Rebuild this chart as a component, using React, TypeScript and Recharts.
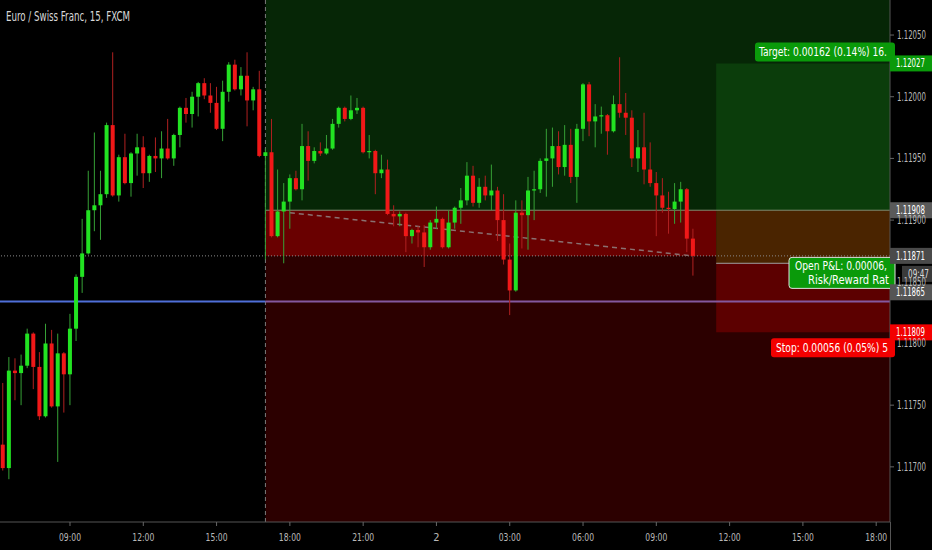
import { ComposedChart, Bar, XAxis, YAxis, ReferenceArea, ReferenceLine } from 'recharts';

// EUR/CHF 15m candles, 06:15 (day 1) .. 10:30 (day 2)
const opens = [
  1.11718, 1.11699, 1.11778, 1.11776, 1.11782, 1.11808, 1.11781, 1.11741, 1.11800, 1.11749,
  1.11792, 1.11775, 1.11812, 1.11854, 1.11873, 1.11908, 1.11912, 1.11921, 1.11977, 1.11920,
  1.11951, 1.11930, 1.11954, 1.11959, 1.11938, 1.11952, 1.11950, 1.11958, 1.11950, 1.11969,
  1.11991, 1.11986, 1.12000, 1.12011, 1.12001, 1.11995, 1.11974, 1.12004, 1.12026, 1.12006,
  1.12017, 1.11997, 1.12006, 1.11952, 1.11955, 1.11887, 1.11907, 1.11915, 1.11934, 1.11925,
  1.11960, 1.11948, 1.11956, 1.11954, 1.11958, 1.11978, 1.11991, 1.11982, 1.11989, 1.11991,
  1.11955, 1.11956, 1.11938, 1.11941, 1.11905, 1.11903, 1.11905, 1.11887, 1.11892, 1.11890,
  1.11878, 1.11898, 1.11901, 1.11878, 1.11898, 1.11910, 1.11916, 1.11936, 1.11914, 1.11927,
  1.11920, 1.11924, 1.11900, 1.11868, 1.11843, 1.11906, 1.11904, 1.11924, 1.11925, 1.11948,
  1.11950, 1.11960, 1.11943, 1.11961, 1.11935, 1.11974, 1.12010, 1.11980, 1.11984, 1.11985,
  1.11972, 1.11994, 1.11987, 1.11983, 1.11950, 1.11959, 1.11941, 1.11930, 1.11920, 1.11910,
  1.11909, 1.11915, 1.11925, 1.11885,
];
const highs = [
  1.11768, 1.11789, 1.11788, 1.11791, 1.11812, 1.11809, 1.11793, 1.11816, 1.11811, 1.11808,
  1.11793, 1.11824, 1.11856, 1.11901, 1.11940, 1.11971, 1.11940, 1.11979, 1.12036, 1.11953,
  1.11970, 1.11955, 1.11970, 1.11968, 1.11953, 1.11967, 1.11972, 1.11982, 1.11970, 1.11992,
  1.11999, 1.12004, 1.12012, 1.12015, 1.12011, 1.12008, 1.12013, 1.12028, 1.12030, 1.12024,
  1.12036, 1.12008, 1.12021, 1.11958, 1.11982, 1.11941, 1.11930, 1.11937, 1.11940, 1.11978,
  1.11972, 1.11959, 1.11963, 1.11969, 1.11982, 1.11992, 1.11992, 1.12001, 1.11999, 1.11992,
  1.11969, 1.11957, 1.11953, 1.11949, 1.11912, 1.11907, 1.11906, 1.11893, 1.11895, 1.11896,
  1.11900, 1.11911, 1.11902, 1.11908, 1.11911, 1.11926, 1.11947, 1.11944, 1.11934, 1.11936,
  1.11945, 1.11927, 1.11921, 1.11881, 1.11916, 1.11916, 1.11935, 1.11940, 1.11950, 1.11974,
  1.11975, 1.11972, 1.11977, 1.11974, 1.11978, 1.12011, 1.12012, 1.11994, 1.11992, 1.11986,
  1.12001, 1.12032, 1.12003, 1.11989, 1.11973, 1.11987, 1.11963, 1.11939, 1.11934, 1.11923,
  1.11930, 1.11931, 1.11926, 1.11893,
];
const lows = [
  1.11697, 1.11690, 1.11754, 1.11750, 1.11780, 1.11763, 1.11738, 1.11740, 1.11748, 1.11704,
  1.11744, 1.11750, 1.11802, 1.11841, 1.11872, 1.11891, 1.11884, 1.11918, 1.11919, 1.11915,
  1.11929, 1.11919, 1.11936, 1.11926, 1.11931, 1.11939, 1.11934, 1.11949, 1.11944, 1.11959,
  1.11979, 1.11975, 1.11984, 1.11998, 1.11987, 1.11973, 1.11964, 1.11996, 1.12005, 1.12001,
  1.11976, 1.11989, 1.11951, 1.11868, 1.11886, 1.11886, 1.11865, 1.11893, 1.11924, 1.11916,
  1.11932, 1.11946, 1.11952, 1.11953, 1.11957, 1.11975, 1.11980, 1.11981, 1.11986, 1.11954,
  1.11950, 1.11921, 1.11934, 1.11904, 1.11895, 1.11895, 1.11874, 1.11881, 1.11878, 1.11862,
  1.11876, 1.11893, 1.11877, 1.11877, 1.11893, 1.11897, 1.11912, 1.11911, 1.11910, 1.11916,
  1.11908, 1.11883, 1.11864, 1.11823, 1.11842, 1.11877, 1.11876, 1.11900, 1.11922, 1.11919,
  1.11927, 1.11937, 1.11936, 1.11930, 1.11914, 1.11964, 1.11968, 1.11959, 1.11970, 1.11953,
  1.11971, 1.11983, 1.11969, 1.11943, 1.11939, 1.11929, 1.11927, 1.11887, 1.11906, 1.11889,
  1.11897, 1.11898, 1.11874, 1.11855,
];
const closes = [
  1.11699, 1.11778, 1.11776, 1.11782, 1.11808, 1.11781, 1.11741, 1.11800, 1.11749, 1.11792,
  1.11775, 1.11812, 1.11854, 1.11873, 1.11908, 1.11912, 1.11921, 1.11977, 1.11920, 1.11951,
  1.11930, 1.11954, 1.11959, 1.11938, 1.11952, 1.11950, 1.11958, 1.11950, 1.11969, 1.11991,
  1.11986, 1.12000, 1.12011, 1.12001, 1.11995, 1.11974, 1.12004, 1.12026, 1.12006, 1.12017,
  1.11997, 1.12006, 1.11952, 1.11955, 1.11887, 1.11907, 1.11915, 1.11934, 1.11925, 1.11960,
  1.11948, 1.11956, 1.11954, 1.11958, 1.11978, 1.11991, 1.11982, 1.11989, 1.11991, 1.11955,
  1.11956, 1.11938, 1.11941, 1.11905, 1.11903, 1.11905, 1.11887, 1.11892, 1.11890, 1.11878,
  1.11898, 1.11901, 1.11878, 1.11898, 1.11910, 1.11916, 1.11936, 1.11914, 1.11927, 1.11920,
  1.11924, 1.11900, 1.11868, 1.11843, 1.11906, 1.11904, 1.11924, 1.11925, 1.11948, 1.11950,
  1.11960, 1.11943, 1.11961, 1.11935, 1.11974, 1.12010, 1.11980, 1.11984, 1.11985, 1.11972,
  1.11994, 1.11987, 1.11983, 1.11950, 1.11959, 1.11941, 1.11930, 1.11920, 1.11910, 1.11909,
  1.11915, 1.11925, 1.11885, 1.11871,
];

// time in hours from day-1 midnight
const FIRST_BAR = 6.25;
const BAR_STEP = 0.25;
const timeTicks = [9, 12, 15, 18, 21, 24, 27, 30, 33, 36, 39, 42];
const priceTicks = [1.117, 1.1175, 1.118, 1.1185, 1.119, 1.1195, 1.12, 1.1205];
const TIME_DOMAIN: [number, number] = [6.135, 42.565];
const PRICE_DOMAIN: [number, number] = [1.116553, 1.120784];

// drawings
const POSITION_START = 17;
const BOX_START = 35.45;
const ENTRY_OUTER = 1.11908;
const LAST_PRICE = 1.11871;
const TARGET = 1.12027;
const ENTRY = 1.11865;
const STOP = 1.11809;
const BLUE_LEVEL = 1.11834;
const trendFrom = { t: 18, p: 1.11906 };
const trendTo = { t: 34.5, p: 1.11871 };

const candles = opens.map((open, i) => ({
  t: FIRST_BAR + i * BAR_STEP,
  open,
  high: highs[i],
  low: lows[i],
  close: closes[i],
}));

const FONT = "'Liberation Sans Narrow', 'DejaVu Sans Condensed', 'Roboto Condensed', 'Liberation Sans', Arial, sans-serif";
const UP = '#22e322';
const DOWN = '#f01818';

function Candle(props: any) {
  const { x, y, width, height, payload } = props;
  if (!payload || x == null) return null;
  const top = Math.min(y, y + height);
  const h = Math.abs(height);
  const range = payload.high - payload.low || 1e-9;
  const k = h / range;
  const yOpen = top + (payload.high - payload.open) * k;
  const yClose = top + (payload.high - payload.close) * k;
  const up = payload.close >= payload.open;
  const cx = x + width / 2;
  const bodyTop = Math.min(yOpen, yClose);
  const bodyH = Math.max(1.2, Math.abs(yOpen - yClose));
  return (
    <g>
      <line x1={cx} x2={cx} y1={top} y2={top + h} stroke={up ? '#36a036' : '#b02020'} strokeWidth={1} />
      <rect x={cx - 2} y={bodyTop} width={4} height={bodyH} fill={up ? UP : DOWN} />
    </g>
  );
}

function TimeTick(props: any) {
  const { x, y, payload } = props;
  const h = payload.value % 24;
  const label = h === 0 ? '2' : `${String(h).padStart(2, '0')}:00`;
  const fit = label.length > 1 ? { textLength: 22, lengthAdjust: 'spacingAndGlyphs' } : {};
  return (
    <text x={x} y={y + 13} textAnchor="middle" fill="#b8b8b8" fontSize={11} fontFamily={FONT} {...fit}>
      {label}
    </text>
  );
}

function PriceTick(props: any) {
  const { x, y, payload } = props;
  return (
    <text x={x + 1} y={y + 4} fill="#b8b8b8" fontSize={12} fontFamily={FONT} textLength={29} lengthAdjust="spacingAndGlyphs">
      {Number(payload.value).toFixed(5)}
    </text>
  );
}

function AxisTag({ vb, dy = 0, text, bg, fg = '#fff', x0 = 0, w = 42, tl = 29 }: any) {
  const left = vb.x + vb.width + x0;
  const cy = vb.y + dy;
  return (
    <g>
      <rect x={left} y={cy - 8} width={w} height={16} fill={bg} />
      <text x={left + 6} y={cy + 4} fill={fg} fontSize={12} fontFamily={FONT} textLength={tl} lengthAdjust="spacingAndGlyphs">
        {text}
      </text>
    </g>
  );
}

export default function App() {
  return (
    <div style={{ position: 'absolute', left: 0, top: 0, width: 932, height: 550, background: '#000' }}>
      <ComposedChart width={932} height={550} data={candles} margin={{ top: 0, right: 0, bottom: 0, left: 0 }}>
        <XAxis
          type="number"
          dataKey="t"
          domain={TIME_DOMAIN}
          allowDataOverflow
          ticks={timeTicks}
          interval={0}
          height={28}
          tick={<TimeTick />}
          tickSize={4}
          axisLine={{ stroke: '#555' }}
          tickLine={{ stroke: '#666' }}
        />
        <YAxis
          orientation="right"
          type="number"
          domain={PRICE_DOMAIN}
          allowDataOverflow
          ticks={priceTicks}
          interval={0}
          width={42}
          tick={<PriceTick />}
          tickSize={4}
          axisLine={{ stroke: '#555' }}
          tickLine={{ stroke: '#666' }}
        />

        {/* position tool backgrounds */}
        <ReferenceArea x1={POSITION_START} x2={TIME_DOMAIN[1]} y1={ENTRY_OUTER} y2={PRICE_DOMAIN[1]} fill="#062606" fillOpacity={1} stroke="none" zIndex={-50} />
        <ReferenceArea x1={POSITION_START} x2={TIME_DOMAIN[1]} y1={PRICE_DOMAIN[0]} y2={ENTRY_OUTER} fill="#2c0000" fillOpacity={1} stroke="none" zIndex={-50} />
        <ReferenceArea x1={POSITION_START} x2={BOX_START} y1={LAST_PRICE} y2={ENTRY_OUTER} fill="#690000" fillOpacity={1} stroke="none" zIndex={-50} />
        <ReferenceArea x1={BOX_START} x2={TIME_DOMAIN[1]} y1={ENTRY_OUTER} y2={TARGET} fill="#0b3d0b" fillOpacity={1} stroke="none" zIndex={-50} />
        <ReferenceArea x1={BOX_START} x2={TIME_DOMAIN[1]} y1={ENTRY} y2={ENTRY_OUTER} fill="#4a2400" fillOpacity={1} stroke="none" zIndex={-50} />
        <ReferenceArea x1={BOX_START} x2={TIME_DOMAIN[1]} y1={STOP} y2={ENTRY} fill="#5c0000" fillOpacity={1} stroke="none" zIndex={-50} />

        {/* lines */}
        <ReferenceLine x={POSITION_START} stroke="#7a7a7a" strokeDasharray="4 3" zIndex={100} />
        <ReferenceLine segment={[{ x: POSITION_START, y: ENTRY_OUTER }, { x: TIME_DOMAIN[1], y: ENTRY_OUTER }]} stroke="#7f8c70" zIndex={100} />
        <ReferenceLine segment={[{ x: BOX_START, y: ENTRY }, { x: TIME_DOMAIN[1], y: ENTRY }]} stroke="#a0a0a0" zIndex={100} />
        <ReferenceLine y={LAST_PRICE} stroke="#8a8a8a" strokeDasharray="1 2" zIndex={100} />
        <ReferenceLine segment={[{ x: TIME_DOMAIN[0], y: BLUE_LEVEL }, { x: POSITION_START, y: BLUE_LEVEL }]} stroke="#4f6fd8" strokeWidth={2} zIndex={100} />
        <ReferenceLine segment={[{ x: POSITION_START, y: BLUE_LEVEL }, { x: TIME_DOMAIN[1], y: BLUE_LEVEL }]} stroke="#84589f" strokeWidth={2} zIndex={100} />
        <ReferenceLine segment={[{ x: trendFrom.t, y: trendFrom.p }, { x: trendTo.t, y: trendTo.p }]} stroke="#8a7070" strokeWidth={1.5} strokeDasharray="5 4" zIndex={100} />

        <Bar dataKey={(d: any) => [d.low, d.high]} barSize={4} shape={<Candle />} isAnimationActive={false} />

        {/* price tags and position labels */}
        <ReferenceLine
          y={TARGET}
          stroke="none"
          zIndex={1500}
          label={(p: any) => (
            <g>
              <rect x={p.viewBox.x + p.viewBox.width - 135} y={p.viewBox.y - 21} width={140} height={19} rx={3} fill="#0a9a0a" />
              <text x={p.viewBox.x + p.viewBox.width - 131} y={p.viewBox.y - 7} fill="#fff" fontSize={12} fontFamily={FONT} textLength={128} lengthAdjust="spacingAndGlyphs">
                Target: 0.00162 (0.14%) 16.
              </text>
              <AxisTag vb={p.viewBox} text={TARGET.toFixed(5)} bg="#0a9a0a" />
            </g>
          )}
        />
        <ReferenceLine y={ENTRY_OUTER} stroke="none" zIndex={1500} label={(p: any) => <AxisTag vb={p.viewBox} text={ENTRY_OUTER.toFixed(5)} bg="#5a5a5a" />} />
        <ReferenceLine
          y={LAST_PRICE}
          stroke="none"
          zIndex={1500}
          label={(p: any) => (
            <g>
              <rect x={p.viewBox.x + p.viewBox.width - 101} y={p.viewBox.y + 1.5} width={106} height={31} rx={3} fill="#0a9a0a" stroke="#e0e0e0" strokeWidth={1} />
              <text x={p.viewBox.x + p.viewBox.width - 95} y={p.viewBox.y + 14} fill="#fff" fontSize={12} fontFamily={FONT} textLength={92} lengthAdjust="spacingAndGlyphs">
                Open P&amp;L: 0.00006,
              </text>
              <text x={p.viewBox.x + p.viewBox.width - 82} y={p.viewBox.y + 28} fill="#fff" fontSize={12} fontFamily={FONT} textLength={81} lengthAdjust="spacingAndGlyphs">
                Risk/Reward Rat
              </text>
              <AxisTag vb={p.viewBox} text={LAST_PRICE.toFixed(5)} bg="#4a4a4a" />
              <AxisTag vb={p.viewBox} dy={18} x0={12} w={30} tl={21} text="09:47" bg="#3a3a3a" fg="#dcdcdc" />
            </g>
          )}
        />
        <ReferenceLine y={ENTRY} stroke="none" zIndex={1500} label={(p: any) => <AxisTag vb={p.viewBox} dy={29} text={ENTRY.toFixed(5)} bg="#555" />} />
        <ReferenceLine
          y={STOP}
          stroke="none"
          zIndex={1500}
          label={(p: any) => (
            <g>
              <rect x={p.viewBox.x + p.viewBox.width - 119} y={p.viewBox.y + 6} width={124} height={19} rx={3} fill="#f20000" />
              <text x={p.viewBox.x + p.viewBox.width - 114} y={p.viewBox.y + 20} fill="#fff" fontSize={12} fontFamily={FONT} textLength={112} lengthAdjust="spacingAndGlyphs">
                Stop: 0.00056 (0.05%) 5
              </text>
              <AxisTag vb={p.viewBox} text={STOP.toFixed(5)} bg="#f20000" />
            </g>
          )}
        />
      </ComposedChart>
      <svg width={932} height={550} style={{ position: 'absolute', left: 0, top: 0, pointerEvents: 'none' }}>
        <text x={6} y={21} fill="#d8d8d8" fontSize={14} fontFamily={FONT} textLength={124} lengthAdjust="spacingAndGlyphs">
          Euro / Swiss Franc, 15, FXCM
        </text>
        <line x1={890.5} x2={890.5} y1={522} y2={550} stroke="#555" />
      </svg>
    </div>
  );
}
